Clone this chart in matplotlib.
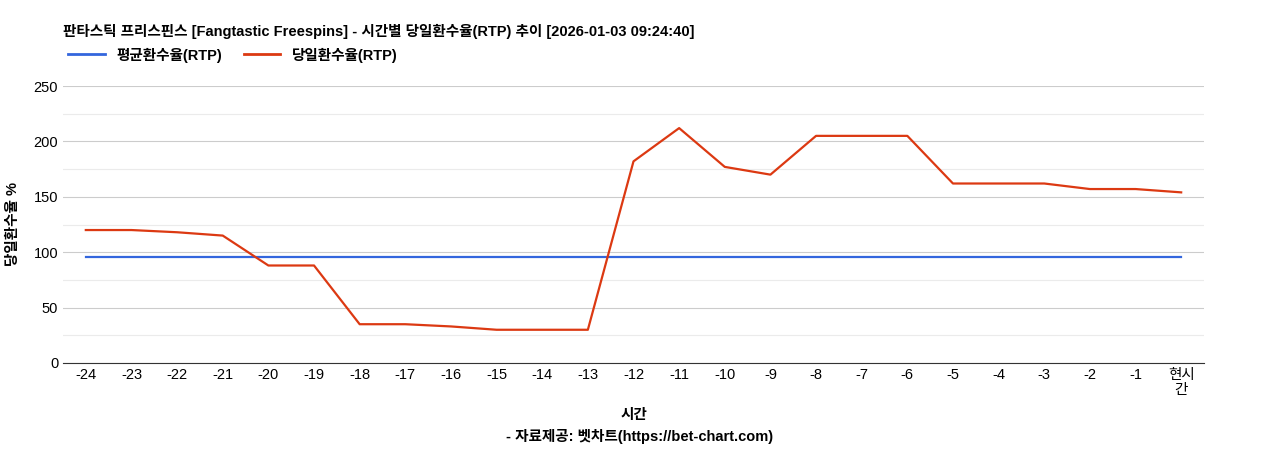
import matplotlib
matplotlib.use("Agg")
import matplotlib.pyplot as plt

plt.rcParams['font.family'] = ['Liberation Sans', 'Noto Sans CJK KR', 'DejaVu Sans']

categories = ['-24','-23','-22','-21','-20','-19','-18','-17','-16','-15','-14','-13','-12','-11','-10','-9','-8','-7','-6','-5','-4','-3','-2','-1','현시\n간']
daily_rtp = [120,120,118,115,88,88,35,35,33,30,30,30,182,212,177,170,205,205,205,162,162,162,157,157,154]
avg_rtp = [96]*25

fig = plt.figure(figsize=(12.68, 4.5), dpi=100)
ax = fig.add_axes([63/1268, 1-363/450, (1204-63)/1268, (363-86)/450])
x = list(range(len(categories)))
ax.plot(x, avg_rtp, color='#3366dd', lw=1.6)
ax.plot(x, daily_rtp, color='#dc3912', lw=1.6)
ax.set_xlim(-0.5, len(categories)-0.5)
ax.set_ylim(0, 250)
ax.set_yticks([0,50,100,150,200,250])
ax.set_yticks([25,75,125,175,225], minor=True)
ax.grid(True, which='major', axis='y', color='#cccccc', lw=0.8)
ax.grid(True, which='minor', axis='y', color='#ebebeb', lw=0.8)
ax.tick_params(axis='y', which='both', length=0, labelsize=10.5)
ax.tick_params(axis='x', length=0, labelsize=10.5)
ax.set_xticks(x)
ax.set_xticklabels(categories, linespacing=1.1)
for s in ['top','right','left']:
    ax.spines[s].set_visible(False)
ax.spines['bottom'].set_color('#333333')
ax.set_axisbelow(True)
ax.set_ylabel('당일환수율 %', fontsize=10.5, fontweight='bold', labelpad=10)
ax.set_xlabel('시간', fontsize=10.5, fontweight='bold', labelpad=8)
fig.text(640/1268, 1-437/450, '- 자료제공: 벳차트(https://bet-chart.com)', ha='center', va='center', fontsize=10.5, fontweight='bold')
fig.text(63/1268, 1-31/450, '판타스틱 프리스핀스 [Fangtastic Freespins] - 시간별 당일환수율(RTP) 추이 [2026-01-03 09:24:40]', ha='left', va='center', fontsize=10.5, fontweight='bold')
from matplotlib.lines import Line2D
handles = [Line2D([], [], color='#3366dd', lw=2), Line2D([], [], color='#dc3912', lw=2)]
fig.legend(handles, ['평균환수율(RTP)', '당일환수율(RTP)'], loc='center left', bbox_to_anchor=(55/1268, 1-55/450), ncol=2, frameon=False, prop={'weight':'bold','size':10.5}, handlelength=2.5, columnspacing=1.5)
fig.savefig('out.png', dpi=100)
